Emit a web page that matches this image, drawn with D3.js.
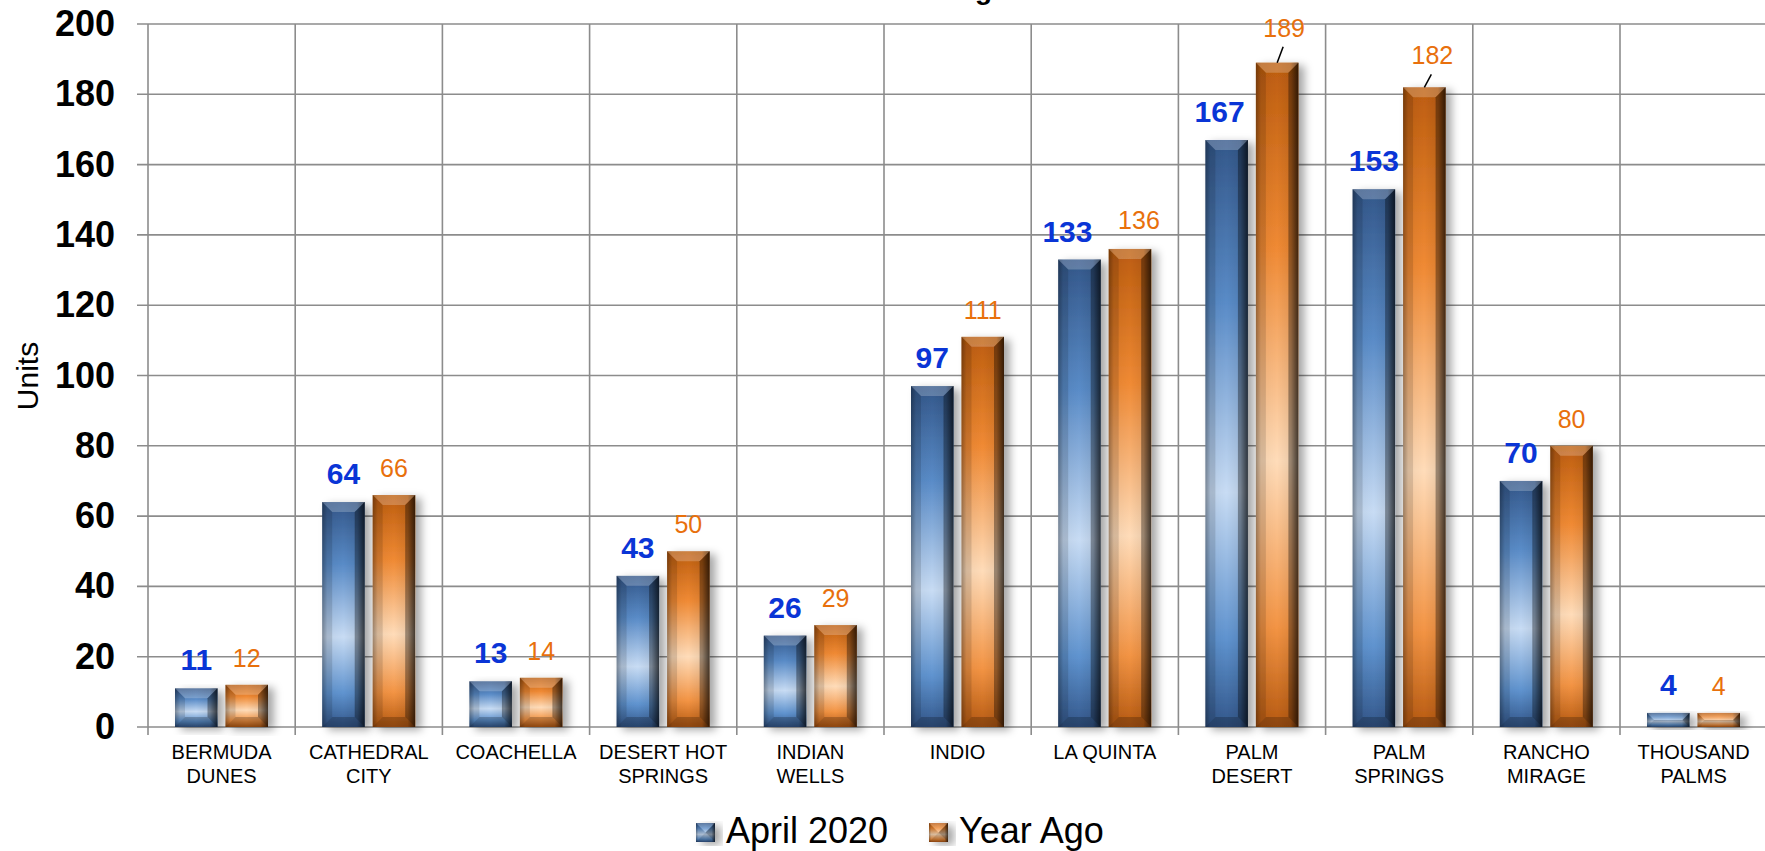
<!DOCTYPE html>
<html>
<head>
<meta charset="utf-8">
<script src="https://cdn.jsdelivr.net/npm/d3@7"></script>
<style>
  body { margin: 0; background: #fff; }
  text { font-family: "Liberation Sans", Arial, sans-serif; }
</style>
</head>
<body>
<script>
// chart data
var categories = ["BERMUDA\nDUNES", "CATHEDRAL\nCITY", "COACHELLA", "DESERT HOT\nSPRINGS", "INDIAN\nWELLS",
  "INDIO", "LA QUINTA", "PALM\nDESERT", "PALM\nSPRINGS", "RANCHO\nMIRAGE", "THOUSAND\nPALMS"];
var seriesNames = ["April 2020", "Year Ago"];
var april2020 = [11, 64, 13, 43, 26, 97, 133, 167, 153, 70, 4];
var yearAgo = [12, 66, 14, 50, 29, 111, 136, 189, 182, 80, 4];
var yTicks = [0, 20, 40, 60, 80, 100, 120, 140, 160, 180, 200];

var svgWidth = 1765, svgHeight = 851;
var plotLeft = 148, plotTop = 24, plotBottom = 727;
var step = 147.2;

var svg = d3.select("body").append("svg")
  .attr("width", svgWidth)
  .attr("height", svgHeight);

var defs = svg.append("defs");

// vertical shading per colour
var palettes = {
  blue: ["#33578a", "#5a8cc8", "#c8dcf4", "#5f93cf", "#33578b"],
  orange: ["#bd5d0f", "#f08a34", "#ffdcb9", "#f39444", "#b75a11"]
};
Object.keys(palettes).forEach(function(k) {
  var g = defs.append("linearGradient").attr("id", "v-" + k)
    .attr("x1", 0).attr("y1", 0).attr("x2", 0).attr("y2", 1);
  [0, 0.28, 0.6, 0.85, 1].forEach(function(o, i) {
    g.append("stop").attr("offset", o).attr("stop-color", palettes[k][i]);
  });
});
var hs = defs.append("linearGradient").attr("id", "h-shade")
  .attr("x1", 0).attr("y1", 0).attr("x2", 1).attr("y2", 0);
[[0, 0.3], [0.12, 0.05], [0.5, 0], [0.82, 0.08], [1, 0.6]].forEach(function(s) {
  hs.append("stop").attr("offset", s[0]).attr("stop-color", "#000").attr("stop-opacity", s[1]);
});

var shadow = defs.append("filter").attr("id", "shadow")
  .attr("x", "-20%").attr("y", "-10%").attr("width", "160%").attr("height", "130%");
shadow.append("feDropShadow").attr("dx", 6).attr("dy", 3).attr("stdDeviation", 4)
  .attr("flood-color", "#000").attr("flood-opacity", 0.35);

// scales
var x0 = d3.scaleBand().domain(categories).range([plotLeft, plotLeft + step * categories.length]);
var x1 = d3.scaleBand().domain(seriesNames).range([27, 120]).paddingInner(0.158);
var y = d3.scaleLinear().domain([0, 200]).range([plotBottom, plotTop]);

// title (mostly cut off by the top edge, as in the original)
svg.append("text")
  .attr("x", 941).attr("y", -1.5)
  .attr("text-anchor", "middle")
  .style("font-size", "28px").style("font-weight", "bold")
  .text("Total Pending Sales");

// grid
var grid = svg.append("g").attr("stroke", "#8c8c8c").attr("stroke-width", 1.6);
grid.selectAll(".h").data(yTicks).enter().append("line")
  .attr("x1", plotLeft - 11).attr("x2", svgWidth + 5)
  .attr("y1", function(d) { return y(d); }).attr("y2", function(d) { return y(d); });
grid.selectAll(".v").data(d3.range(categories.length + 1)).enter().append("line")
  .attr("x1", function(i) { return plotLeft + i * step; })
  .attr("x2", function(i) { return plotLeft + i * step; })
  .attr("y1", plotTop).attr("y2", plotBottom + 8);

// y axis labels
var yAxis = d3.axisLeft(y).tickValues(yTicks).tickSize(0).tickPadding(33);
var yg = svg.append("g").attr("transform", "translate(" + plotLeft + ",0)").call(yAxis);
yg.select(".domain").remove();
yg.selectAll("text")
  .style("font-family", "'Liberation Sans', Arial, sans-serif")
  .style("font-size", "36px").style("font-weight", "bold").attr("fill", "#000");

svg.append("text")
  .attr("transform", "translate(38,376) rotate(-90)")
  .attr("text-anchor", "middle")
  .style("font-size", "30px")
  .text("Units");

// beveled bar
function drawBar(g, x, yTop, w, h, color) {
  var b = Math.min(10, h / 2);
  var bar = g.append("g");
  bar.append("rect").attr("x", x).attr("y", yTop).attr("width", w).attr("height", h)
    .attr("fill", "url(#v-" + color + ")").attr("filter", "url(#shadow)");
  bar.append("rect").attr("x", x).attr("y", yTop).attr("width", w).attr("height", h)
    .attr("fill", "url(#h-shade)");
  var pts = function(a) { return a.map(function(p) { return p.join(","); }).join(" "); };
  bar.append("polygon")
    .attr("points", pts([[x, yTop], [x + w, yTop], [x + w - b, yTop + b], [x + b, yTop + b]]))
    .attr("fill", "#fff").attr("opacity", 0.22);
  bar.append("polygon")
    .attr("points", pts([[x, yTop + h], [x + w, yTop + h], [x + w - b, yTop + h - b], [x + b, yTop + h - b]]))
    .attr("fill", "#000").attr("opacity", 0.22);
  bar.append("polygon")
    .attr("points", pts([[x, yTop], [x + b, yTop + b], [x + b, yTop + h - b], [x, yTop + h]]))
    .attr("fill", "#000").attr("opacity", 0.12);
  bar.append("polygon")
    .attr("points", pts([[x + w, yTop], [x + w - b, yTop + b], [x + w - b, yTop + h - b], [x + w, yTop + h]]))
    .attr("fill", "#000").attr("opacity", 0.35);
}

var seriesData = [
  { name: seriesNames[0], values: april2020, color: "blue", label: "#0a35d6", weight: "bold", size: 30 },
  { name: seriesNames[1], values: yearAgo, color: "orange", label: "#e8700c", weight: "normal", size: 25 }
];

// label nudges where labels were moved apart: [dx, dy, leader line]
var nudges = {
  "April 2020|LA QUINTA": [-12, 0, false],
  "Year Ago|LA QUINTA": [9, -2, false],
  "April 2020|PALM\nDESERT": [-7, 0, false],
  "Year Ago|PALM\nDESERT": [7, -8, true],
  "Year Ago|PALM\nSPRINGS": [8, -5, true]
};

var barsG = svg.append("g");
var labelsG = svg.append("g");
seriesData.forEach(function(s) {
  s.values.forEach(function(v, i) {
    var c = categories[i];
    var bx = x0(c) + x1(s.name);
    var bw = x1.bandwidth();
    drawBar(barsG, bx, y(v), bw, y(0) - y(v), s.color);
    var n = nudges[s.name + "|" + c] || [0, 0, false];
    var lx = bx + bw / 2 + n[0], ly = y(v) - 18 + n[1];
    if (n[2]) {
      labelsG.append("line")
        .attr("x1", bx + bw / 2).attr("y1", y(v))
        .attr("x2", lx - 1).attr("y2", ly + 10)
        .attr("stroke", "#000").attr("stroke-width", 1.5);
    }
    labelsG.append("text")
      .attr("x", lx).attr("y", ly)
      .attr("text-anchor", "middle")
      .attr("fill", s.label)
      .style("font-size", s.size + "px").style("font-weight", s.weight)
      .text(v);
  });
});

// category labels
var catG = svg.append("g");
categories.forEach(function(c) {
  var t = catG.append("text")
    .attr("x", x0(c) + step / 2).attr("y", 759)
    .attr("text-anchor", "middle")
    .style("font-size", "20px");
  c.split("\n").forEach(function(line, j) {
    t.append("tspan").attr("x", x0(c) + step / 2).attr("dy", j ? 24 : 0).text(line);
  });
});

// legend
var legendX = [696, 929];
seriesData.forEach(function(s, i) {
  drawBar(svg, legendX[i], 823, 19, 19, s.color);
  svg.append("text")
    .attr("x", legendX[i] + 30).attr("y", 843)
    .style("font-size", "36px")
    .text(s.name);
});
</script>
</body>
</html>
